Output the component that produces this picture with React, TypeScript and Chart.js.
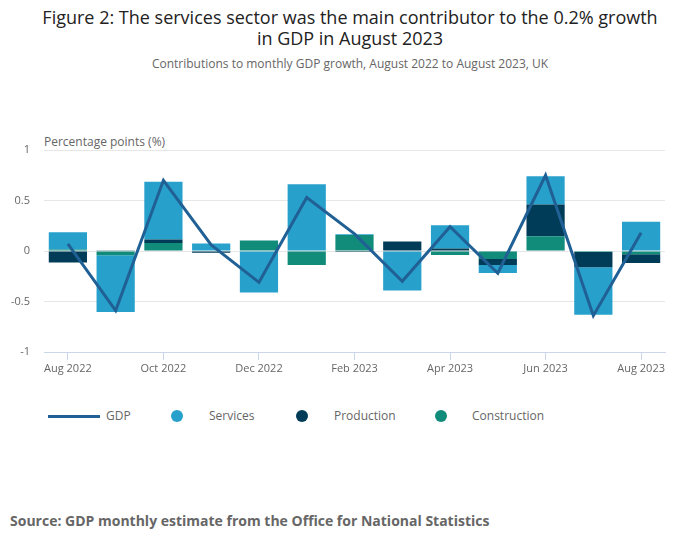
import React, { useEffect, useRef } from "react";
import { Chart, registerables } from "chart.js";

Chart.register(...registerables);

const categories = [
  "Aug 2022", "Sep 2022", "Oct 2022", "Nov 2022", "Dec 2022", "Jan 2023", "Feb 2023",
  "Mar 2023", "Apr 2023", "May 2023", "Jun 2023", "Jul 2023", "Aug 2023",
];
const gdp = [0.07, -0.59, 0.7, 0.06, -0.31, 0.53, 0.17, -0.3, 0.24, -0.22, 0.75, -0.64, 0.18];
const services = [0.17, -0.56, 0.57, 0.075, -0.41, 0.66, 0.007, -0.39, 0.23, -0.08, 0.28, -0.47, 0.29];
const production = [-0.115, 0.007, 0.036, -0.017, 0, 0, -0.01, 0.09, 0.024, -0.06, 0.315, -0.15, -0.085];
const construction = [0.016, -0.043, 0.079, 0, 0.105, -0.138, 0.158, 0.005, -0.04, -0.079, 0.145, -0.01, -0.033];
const yTicks = [-1, -0.5, 0, 0.5, 1];

const FONT = "'Open Sans', 'Noto Sans', sans-serif";
const C_GDP = "#206095";
const C_SERV = "#27a0cc";
const C_PROD = "#003c57";
const C_CONS = "#118c7b";

export default function App() {
  const ref = useRef<HTMLCanvasElement | null>(null);
  useEffect(() => {
    document.body.style.margin = "0";
    const canvas = ref.current;
    if (!canvas) return;
    const chart = new Chart(canvas, {
      type: "bar",
      data: {
        labels: categories,
        datasets: [
          {
            type: "line",
            label: "GDP",
            data: gdp,
            borderColor: C_GDP,
            backgroundColor: C_GDP,
            borderWidth: 3,
            pointRadius: 0,
            stack: "gdp",
            tension: 0,
          } as any,
          { label: "Construction", data: construction, backgroundColor: C_CONS, stack: "s" },
          { label: "Production", data: production, backgroundColor: C_PROD, stack: "s" },
          { label: "Services", data: services, backgroundColor: C_SERV, stack: "s" },
        ],
      },
      options: {
        animation: false,
        responsive: false,
        layout: { padding: { top: 150, right: 35, left: 0, bottom: 0 } },
        datasets: { bar: { barPercentage: 0.8, categoryPercentage: 1 } },
        plugins: { legend: { display: false }, tooltip: { enabled: false }, title: { display: false } },
        scales: {
          x: {
            stacked: true,
            offset: true,
            grid: {
              offset: false,
              drawOnChartArea: false,
              drawTicks: true,
              tickLength: 8,
              tickColor: (ctx: any) => (ctx.index % 2 === 0 ? "#ccd6eb" : "rgba(0,0,0,0)"),
            },
            border: { display: true, color: "#ccd6eb", width: 1 },
            ticks: {
              autoSkip: false,
              maxRotation: 0,
              padding: 2,
              color: "#666666",
              font: { family: FONT, size: 11 },
              callback: (_v: any, i: number) => (i % 2 === 0 ? categories[i] : ""),
            },
            afterFit: (s: any) => {
              s.height = 38;
            },
          },
          y: {
            stacked: true,
            min: yTicks[0],
            max: yTicks[yTicks.length - 1],
            border: { display: false },
            grid: { color: "#e6e6e6", drawTicks: false },
            ticks: {
              stepSize: 0.5,
              padding: 14,
              color: "#666666",
              font: { family: FONT, size: 11 },
              callback: (v: any) => String(v),
            },
            afterFit: (s: any) => {
              s.width = 44;
            },
          },
        },
      },
    });
    return () => chart.destroy();
  }, []);

  const legendText: React.CSSProperties = {
    position: "absolute",
    top: 408,
    fontSize: 12,
    lineHeight: "16px",
    color: "#666666",
    fontFamily: FONT,
  };
  const dot = (x: number, c: string): React.CSSProperties => ({
    position: "absolute",
    left: x - 6,
    top: 410,
    width: 12,
    height: 12,
    borderRadius: 6,
    background: c,
  });

  return (
    <div style={{ position: "relative", width: 700, height: 549, background: "#fff", fontFamily: FONT, overflow: "hidden" }}>
      <div style={{ position: "absolute", top: 7, left: 0, width: 700, textAlign: "center", fontSize: 18, lineHeight: "21px", color: "#222222" }}>
        Figure 2: The services sector was the main contributor to the 0.2% growth
        <br />
        in GDP in August 2023
      </div>
      <div style={{ position: "absolute", top: 56, left: 0, width: 700, textAlign: "center", fontSize: 12, lineHeight: "16px", color: "#666666" }}>
        Contributions to monthly GDP growth, August 2022 to August 2023, UK
      </div>
      <div style={{ position: "absolute", top: 134, left: 44, fontSize: 12, lineHeight: "16px", color: "#666666" }}>
        Percentage points (%)
      </div>
      <canvas ref={ref} width={700} height={390} style={{ position: "absolute", top: 0, left: 0, width: 700, height: 390 }} />
      <div style={{ position: "absolute", left: 48, top: 415, width: 52, height: 3, background: C_GDP }} />
      <div style={{ ...legendText, left: 106 }}>GDP</div>
      <div style={dot(177, C_SERV)} />
      <div style={{ ...legendText, left: 209 }}>Services</div>
      <div style={dot(302, C_PROD)} />
      <div style={{ ...legendText, left: 334 }}>Production</div>
      <div style={dot(441, C_CONS)} />
      <div style={{ ...legendText, left: 472 }}>Construction</div>
      <div style={{ position: "absolute", left: 10, top: 512, fontSize: 14, fontWeight: 700, lineHeight: "18px", color: "#666666" }}>
        Source: GDP monthly estimate from the Office for National Statistics
      </div>
    </div>
  );
}
